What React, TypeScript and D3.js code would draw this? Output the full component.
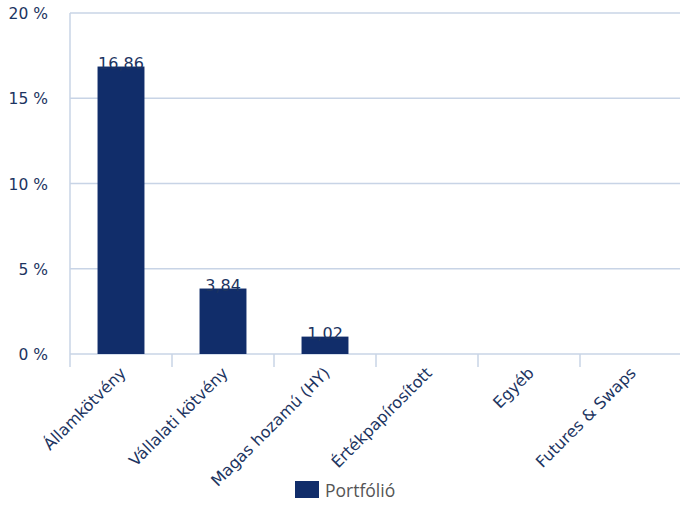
import React from "react";
import * as d3 from "d3";

const categories = ["Államkötvény", "Vállalati kötvény", "Magas hozamú (HY)", "Értékpapírosított", "Egyéb", "Futures & Swaps"];
const values = [16.86, 3.84, 1.02, 0, 0, 0];
const yTicks = [0, 5, 10, 15, 20];
const seriesName = "Portfólió";

const W = 680, H = 505;
const left = 70, right = 682, top = 13, bottom = 354;
const textColor = "#1c3461";
const gridColor = "#c8d4e6";
const barColor = "#112d6a";
const font = "DejaVu Sans, Verdana, sans-serif";

export default function App() {
  const x = d3.scaleBand<string>().domain(categories).range([left, right]).paddingInner(0.54).paddingOuter(0.27);
  const xb = d3.scaleBand<string>().domain(categories).range([left, right]);
  const y = d3.scaleLinear().domain([0, 20]).range([bottom, top]);
  const fmt = (v: number) => v.toFixed(2).replace(".", ",");
  return (
    <svg width={W} height={H} style={{ position: "absolute", left: 0, top: 0, background: "#fff" }}>
      {yTicks.map((t) => (
        <g key={t}>
          <line x1={left} x2={right} y1={y(t)} y2={y(t)} stroke={gridColor} strokeWidth={1.5} />
          <text x={48} y={y(t) + 6} textAnchor="end" fontFamily={font} fontSize={15.5} fill={textColor}>{t} %</text>
        </g>
      ))}
      <line x1={left} x2={left} y1={top} y2={bottom + 13} stroke={gridColor} strokeWidth={1.5} />
      {categories.map((c, i) => (
        <line key={"t" + i} x1={xb(c)! + xb.bandwidth()} x2={xb(c)! + xb.bandwidth()} y1={bottom} y2={bottom + 13} stroke={gridColor} strokeWidth={1.5} />
      ))}
      {categories.map((c, i) =>
        values[i] > 0 ? (
          <g key={"b" + i}>
            <rect x={x(c)} y={y(values[i])} width={x.bandwidth()} height={bottom - y(values[i])} fill={barColor} />
            <text x={x(c)! + x.bandwidth() / 2} y={y(values[i]) + 2} textAnchor="middle" fontFamily={font} fontSize={16} fill={textColor}>{fmt(values[i])}</text>
          </g>
        ) : null
      )}
      {categories.map((c, i) => {
        const cx = xb(c)! + xb.bandwidth() / 2 + 6;
        const cy = bottom + 20;
        return (
          <text key={"l" + i} transform={`translate(${cx},${cy}) rotate(-45)`} textAnchor="end" fontFamily={font} fontSize={16} fill={textColor}>{c}</text>
        );
      })}
      <rect x={295} y={481} width={24} height={17} fill={barColor} />
      <text x={325} y={497} fontFamily="Open Sans, sans-serif" fontSize={17.5} fill="#555">{seriesName}</text>
    </svg>
  );
}
